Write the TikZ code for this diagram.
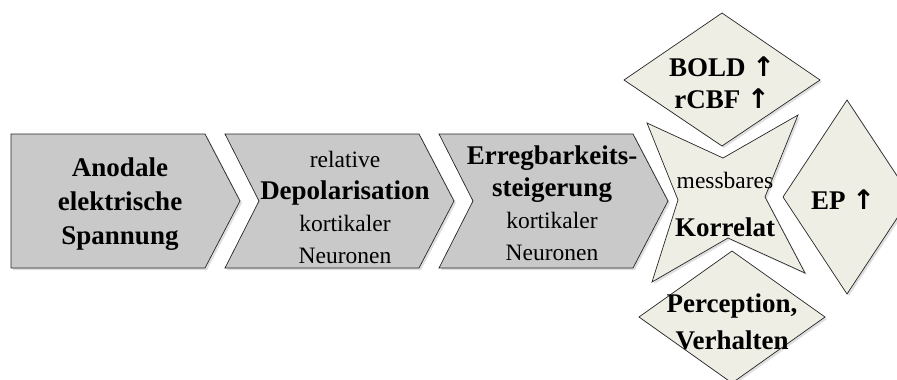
\documentclass[tikz,border=0pt]{standalone}
\usepackage{fontspec}
\setmainfont{Liberation Serif}
\newfontfamily\arrowfont{DejaVu Sans}
\usetikzlibrary{shadows}
\definecolor{chevgray}{RGB}{201,201,201}
\definecolor{gembeige}{RGB}{238,238,229}
\newcommand{\up}{{\arrowfont\bfseries ↑}}
\newcommand{\rg}{\fontsize{23.5}{32}\selectfont}
\newcommand{\bd}{\fontsize{27}{32}\selectfont\bfseries}

\begin{document}
\begin{tikzpicture}[x=1pt, y=-1pt, line width=0.7pt,
  shd/.style={drop shadow={opacity=0.25, shadow xshift=2pt, shadow yshift=-2pt}},
  chev/.style={draw=black!85, fill=chevgray, shd},
  gem/.style={draw=black!85, fill=gembeige, shd},
  txt/.style={align=center, font=\rg, inner sep=0pt}]
\clip (0,0) rectangle (897,380);

% chevrons
\draw[chev] (11,134) -- (205,134) -- (240,201) -- (205,268) -- (11,268) -- cycle;
\foreach \s in {214,428}
  \draw[chev] (\s+11,134) -- (\s+205,134) -- (\s+240,201) -- (\s+205,268) -- (\s+11,268) -- (\s+45,201) -- cycle;

% correlates
\draw[gem] (722,13) -- (820,80) -- (722,146) -- (624,80) -- cycle;
\draw[gem] (847,100) -- (911,197) -- (847,294) -- (783,197) -- cycle;
\draw[gem] (732,251) -- (825,317) -- (732,383) -- (639,317) -- cycle;
\draw[gem] (647,123) -- (723,158) -- (798,115) -- (765,197) -- (805,273) -- (728,238) -- (652,282) -- (678,200) -- cycle;

\node[txt, font=\fontsize{27}{34}\selectfont\bfseries] (spannung) at (120,204) {Anodale\\elektrische\\Spannung};
\node[txt] (depol) at (345,207) {relative\\{\bd Depolarisation}\\kortikaler\\Neuronen};
\node[txt] (erreg) at (552,203) {{\bd Erregbarkeits-}\\{\bd steigerung}\\kortikaler\\Neuronen};
\node[txt] (korrelat) at (725,204) {messbares\\[16pt]{\bd Korrelat}};
\node[txt, font=\bd] (bold) at (722,83) {BOLD \up\\rCBF \up};
\node[txt, font=\bd] (ep) at (843,200) {EP \up};
\node[txt, font=\fontsize{27}{37}\selectfont\bfseries] (verhalten) at (732,322) {Perception,\\Verhalten};
\end{tikzpicture}
\end{document}
